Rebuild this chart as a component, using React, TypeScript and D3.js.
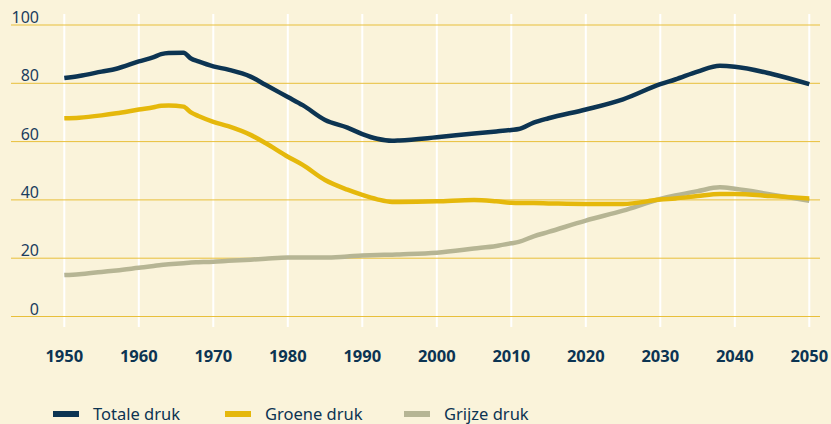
import * as d3 from 'd3';
import React, { useEffect, useRef } from 'react';

const years = [1950, 1952, 1955, 1957, 1960, 1962, 1963, 1964, 1966, 1967, 1968, 1970, 1972, 1975, 1977, 1980, 1982, 1985, 1988, 1990, 1992, 1994, 1995, 2000, 2005, 2008, 2010, 2011, 2013, 2015, 2020, 2025, 2030, 2032, 2035, 2038, 2040, 2045, 2050];

const totaleDruk = [81.8, 82.5, 84, 85, 87.5, 89, 90, 90.4, 90.5, 88.5, 87.5, 85.8, 84.7, 82.3, 79.5, 75.3, 72.5, 67.4, 64.8, 62.6, 61, 60.3, 60.4, 61.5, 62.8, 63.5, 64, 64.3, 66.5, 68, 71, 74.5, 79.7, 81.3, 84, 86, 85.7, 83.2, 79.7];
const groeneDruk = [68, 68.2, 69, 69.7, 71, 71.8, 72.3, 72.4, 72, 70, 68.8, 66.8, 65.3, 62.3, 59.5, 54.8, 52, 46.8, 43.5, 41.7, 40.2, 39.3, 39.3, 39.5, 40, 39.5, 39, 38.9, 38.9, 38.8, 38.6, 38.6, 40.1, 40.5, 41.3, 42, 42, 41.3, 40.5];
const grijzeDruk = [14.2, 14.5, 15.3, 15.8, 16.7, 17.3, 17.7, 17.9, 18.3, 18.5, 18.6, 18.8, 19.1, 19.5, 19.8, 20.2, 20.2, 20.2, 20.6, 20.9, 21.1, 21.2, 21.3, 21.9, 23.3, 24.2, 25.1, 25.6, 27.5, 29, 32.9, 36.3, 40.3, 41.5, 43, 44.3, 43.8, 41.8, 39.7];

const yTicks = [0, 20, 40, 60, 80, 100];
const xTicks = [1950, 1960, 1970, 1980, 1990, 2000, 2010, 2020, 2030, 2040, 2050];

const series = [
  { name: 'Totale druk', values: totaleDruk, color: '#0c3452' },
  { name: 'Groene druk', values: groeneDruk, color: '#e5b80b' },
  { name: 'Grijze druk', values: grijzeDruk, color: '#b6b594' },
];

const W = 831;
const H = 424;
const FONT = '"Noto Sans", "Open Sans", sans-serif';

export default function App() {
  const ref = useRef<SVGSVGElement>(null);

  useEffect(() => {
    const svg = d3.select(ref.current);
    svg.selectAll('*').remove();

    const x = d3.scaleLinear().domain([1950, 2050]).range([64.3, 809.3]);
    const y = d3.scaleLinear().domain([0, 100]).range([316.5, 25]);

    svg.append('rect').attr('width', W).attr('height', H).attr('fill', '#faf3da');

    // white vertical grid
    svg.append('g')
      .selectAll('line')
      .data(xTicks)
      .enter().append('line')
      .attr('x1', d => x(d)).attr('x2', d => x(d))
      .attr('y1', 14).attr('y2', 327)
      .attr('stroke', '#ffffff')
      .attr('stroke-width', 2);

    // horizontal grid
    svg.append('g')
      .selectAll('line')
      .data(yTicks)
      .enter().append('line')
      .attr('x1', 11).attr('x2', 820)
      .attr('y1', d => y(d)).attr('y2', d => y(d))
      .attr('stroke', '#e8bf3a')
      .attr('stroke-width', 1);

    svg.append('g')
      .selectAll('text')
      .data(yTicks)
      .enter().append('text')
      .attr('x', 39)
      .attr('y', d => y(d) - 2)
      .attr('text-anchor', 'end')
      .attr('font-family', FONT)
      .attr('font-size', 16)
      .attr('fill', '#1b3d5e')
      .text(d => d);

    svg.append('g')
      .selectAll('text')
      .data(xTicks)
      .enter().append('text')
      .attr('x', d => x(d))
      .attr('y', 362)
      .attr('text-anchor', 'middle')
      .attr('font-family', FONT)
      .attr('font-size', 16.5)
      .attr('font-weight', 'bold')
      .attr('fill', '#0c3452')
      .text(d => d);

    const line = d3.line<number>()
      .x((_, i) => x(years[i]))
      .y(d => y(d))
      .curve(d3.curveMonotoneX);

    [...series].reverse().forEach(s => {
      svg.append('path')
        .attr('d', line(s.values))
        .attr('fill', 'none')
        .attr('stroke', s.color)
        .attr('stroke-width', 4.5)
        .attr('stroke-linejoin', 'round');
    });

    const legendX = [53, 225, 404];
    const lg = svg.append('g')
      .selectAll('g')
      .data(series)
      .enter().append('g')
      .attr('transform', (_, i) => `translate(${legendX[i]}, 414)`);
    lg.append('rect')
      .attr('x', 0).attr('y', -3)
      .attr('width', 26).attr('height', 6)
      .attr('fill', d => d.color);
    lg.append('text')
      .attr('x', 40).attr('y', 6)
      .attr('font-family', FONT)
      .attr('font-size', 16.5)
      .attr('fill', '#0c3452')
      .text(d => d.name);
  }, []);

  return (
    <div style={{ position: 'fixed', left: 0, top: 0 }}>
      <svg ref={ref} width={W} height={H} style={{ display: 'block' }} />
    </div>
  );
}
